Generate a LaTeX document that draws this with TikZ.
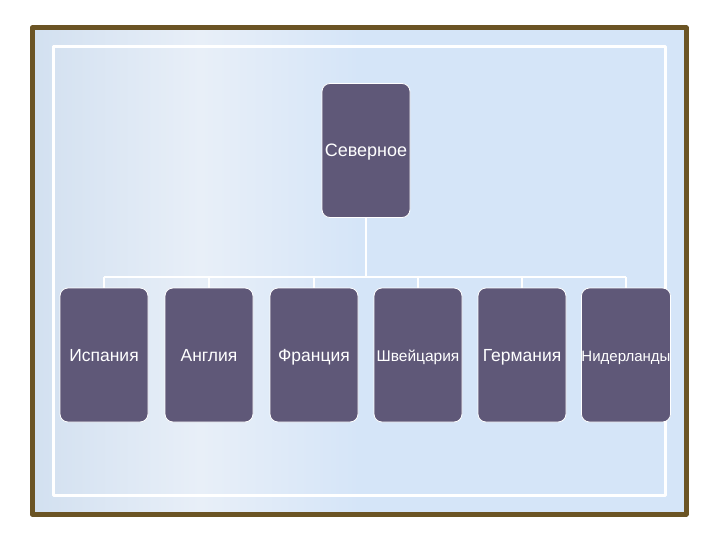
\documentclass[tikz,border=0pt]{standalone}
\usepackage{fontspec}
\setmainfont{Liberation Sans}
\usepackage{tikz}
\usetikzlibrary{positioning}
\definecolor{frameBrown}{HTML}{6B5424}
\definecolor{boxPurple}{HTML}{5F5878}
\definecolor{paleBlue}{HTML}{D5E5F8}
\definecolor{paleLeft}{HTML}{D2E0F0}
\definecolor{paleMid}{HTML}{E8EFF8}

\begin{document}
\begin{tikzpicture}[x=1pt,y=-1pt,line join=round,
  box/.style={rectangle,rounded corners=8pt,draw=white,line width=0.8pt,fill=boxPurple,
    minimum width=88pt,minimum height=134pt,inner sep=0pt,text=white,
    text height=12pt,text depth=0pt,font=\fontsize{17.5}{19}\selectfont},
  link/.style={draw=white,line width=1.6pt}]
\useasboundingbox (0,0) rectangle (720,540);
\fill[white](0,0) rectangle (720,540);
% background and frame
\fill[paleBlue](32,28) rectangle (686,514);
\shade[left color=paleLeft,right color=paleMid](32,28) rectangle (200,514);
\shade[left color=paleMid,right color=paleBlue](200,28) rectangle (360,514);
\draw[frameBrown,line width=5pt](32,28) rectangle (686,514);
\draw[white,line width=3pt](53,47) rectangle (665,495);

\node[box,font=\fontsize{18}{20}\selectfont] (north) at (366,150.5) {Северное};

\node[box] (spain) at (104,355) {Испания};
\node[box] (england) at (209,355) {Англия};
\node[box] (france) at (314,355) {Франция};
\node[box,font=\fontsize{15.5}{17}\selectfont] (swiss) at (418,355) {Швейцария};
\node[box] (germany) at (522,355) {Германия};
\node[box,font=\fontsize{15}{17}\selectfont] (nether) at (626,355) {Нидерланды};

\coordinate (bus) at (366,277);
\draw[link](north.south)--(bus);
\draw[link](spain.north|-bus)--(nether.north|-bus);
\foreach \c in {spain,england,france,swiss,germany,nether}
  \draw[link](\c.north|-bus)--(\c.north);
\end{tikzpicture}
\end{document}
